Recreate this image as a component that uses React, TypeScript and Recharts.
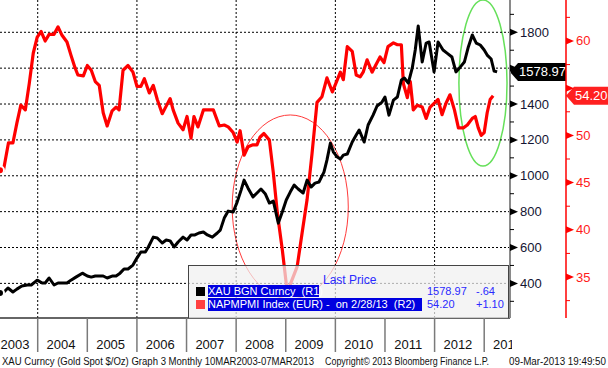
import React from 'react';
import { LineChart, Line, XAxis, YAxis, ReferenceLine, ReferenceArea } from 'recharts';

// Gold spot (R1), monthly
const goldDates = [
  2003.24, 2003.32, 2003.4, 2003.5, 2003.58, 2003.68, 2003.79, 2003.87, 2003.99,
  2004.09, 2004.15, 2004.23, 2004.33, 2004.41, 2004.59, 2004.67, 2004.77, 2004.9,
  2005.0, 2005.08, 2005.16, 2005.24, 2005.32, 2005.4, 2005.5, 2005.58, 2005.66, 2005.74, 2005.82, 2005.92,
  2006.0, 2006.08, 2006.17, 2006.23, 2006.33, 2006.41, 2006.51, 2006.59, 2006.67, 2006.75, 2006.83, 2006.93,
  2007.01, 2007.09, 2007.17, 2007.25, 2007.34, 2007.42, 2007.52, 2007.62, 2007.68, 2007.76, 2007.84, 2007.94,
  2008.02, 2008.1, 2008.16, 2008.24, 2008.34, 2008.42, 2008.5, 2008.59, 2008.67, 2008.75, 2008.85, 2008.93,
  2009.01, 2009.09, 2009.17, 2009.25, 2009.35, 2009.43, 2009.51, 2009.59, 2009.67, 2009.77, 2009.83, 2009.9, 2009.96,
  2010.04, 2010.1, 2010.16, 2010.24, 2010.34, 2010.42, 2010.48, 2010.58, 2010.66, 2010.76, 2010.84, 2010.94,
  2011.0, 2011.08, 2011.17, 2011.25, 2011.33, 2011.39, 2011.47, 2011.55, 2011.61, 2011.67, 2011.75, 2011.83, 2011.89, 2011.99,
  2012.07, 2012.17, 2012.25, 2012.35, 2012.43, 2012.52, 2012.6, 2012.68, 2012.76, 2012.84, 2012.92,
  2013.0, 2013.06, 2013.14, 2013.2, 2013.26,
];
const goldValues = [
  346, 352, 374, 352, 368, 385, 391, 391, 418,
  402, 402, 430, 391, 402, 402, 418, 435, 457,
  441, 435, 441, 441, 441, 430, 441, 441, 457, 480, 480, 502,
  541, 575, 575, 603, 658, 653, 625, 642, 637, 603, 631, 658,
  642, 670, 670, 681, 686, 670, 658, 681, 697, 764, 803, 798,
  853, 920, 976, 931, 882, 904, 926, 898, 848, 859, 736, 798,
  865, 909, 948, 926, 904, 976, 937, 959, 965, 1020, 1087, 1182, 1132,
  1104, 1093, 1115, 1121, 1188, 1227, 1255, 1188, 1283, 1338, 1389, 1411,
  1439, 1338, 1422, 1439, 1534, 1545, 1517, 1601, 1701, 1835, 1634, 1740, 1746, 1579,
  1746, 1701, 1684, 1662, 1579, 1607, 1634, 1718, 1785, 1740, 1729,
  1701, 1673, 1651, 1584, 1578.97,
];

// Euro area manufacturing PMI (R2)
const pmiDates = [
  2003.24, 2003.31, 2003.41, 2003.5, 2003.58, 2003.66, 2003.75, 2003.83, 2003.91, 2003.99,
  2004.07, 2004.15, 2004.23, 2004.33, 2004.41, 2004.49, 2004.59, 2004.67, 2004.75, 2004.81, 2004.92,
  2005.0, 2005.08, 2005.16, 2005.24, 2005.32, 2005.4, 2005.5, 2005.58, 2005.64, 2005.72, 2005.82, 2005.92,
  2006.0, 2006.08, 2006.15, 2006.25, 2006.33, 2006.41, 2006.51, 2006.59, 2006.67, 2006.73, 2006.83, 2006.93,
  2007.01, 2007.09, 2007.15, 2007.23, 2007.34, 2007.42, 2007.54, 2007.66, 2007.76, 2007.84, 2007.94,
  2008.02, 2008.08, 2008.16, 2008.24, 2008.34, 2008.42, 2008.48, 2008.56, 2008.67, 2008.75, 2008.83, 2008.93,
  2009.03, 2009.23, 2009.33, 2009.43, 2009.53, 2009.63, 2009.73, 2009.83, 2009.94,
  2010.04, 2010.1, 2010.16, 2010.24, 2010.34, 2010.42, 2010.5, 2010.56, 2010.64, 2010.74, 2010.82, 2010.9, 2010.98,
  2011.06, 2011.17, 2011.25, 2011.33, 2011.37, 2011.45, 2011.51, 2011.57, 2011.65, 2011.75, 2011.83, 2011.91, 2011.99,
  2012.07, 2012.15, 2012.23, 2012.31, 2012.4, 2012.48, 2012.58, 2012.66, 2012.76, 2012.82, 2012.88, 2012.94,
  2013.0, 2013.06, 2013.12, 2013.18,
];
const pmiValues = [
  46.3, 46.3, 49.2, 49.2, 51.3, 53.2, 52.7, 55.5, 58.7, 60.4,
  61.0, 60.0, 60.7, 60.7, 61.5, 60.6, 59.9, 58.5, 57.2, 56.4, 56.3,
  57.4, 56.9, 55.7, 55.3, 52.4, 51.0, 52.6, 53.0, 52.7, 56.9, 57.4, 56.7,
  55.2, 55.2, 56.0, 54.5, 55.3, 53.8, 52.3, 53.1, 53.9, 52.7, 51.3, 50.6,
  52.0, 49.7, 52.0, 50.9, 52.7, 52.7, 52.7, 51.0, 51.1, 50.9, 50.3,
  49.3, 50.5, 47.9, 48.8, 49.0, 49.0, 49.8, 50.2, 49.5, 46.0, 41.8, 37.9,
  33.4, 36.1, 39.7, 43.2, 48.1, 53.5, 54.1, 56.1, 54.6,
  55.9, 56.7, 55.9, 59.4, 58.9, 56.4, 56.2, 56.7, 58.0, 56.7, 57.5, 58.3, 57.7,
  59.4, 59.8, 59.6, 59.6, 55.5, 54.0, 55.7, 52.7, 53.2, 53.0, 51.8, 53.0, 53.4,
  53.8, 52.2, 53.4, 54.3, 52.7, 50.8, 50.8, 51.1, 51.8, 52.0, 50.8, 50.0,
  50.3, 52.4, 53.8, 54.2,
];

const goldTicks = [300, 400, 500, 600, 700, 800, 900, 1000, 1100, 1200, 1300, 1400, 1500, 1600, 1700, 1800, 1900];
const goldGrid = [400, 600, 800, 1000, 1200, 1400, 1600, 1800];
const pmiTicks = [32.5, 35, 37.5, 40, 42.5, 45, 47.5, 50, 52.5, 55, 57.5, 60, 62.5];
const yearTicks = [2003.5, 2004.5, 2005.5, 2006.5, 2007.5, 2008.5, 2009.5, 2010.5, 2011.5, 2012.5, 2013.5];
const yearGrid = [2004, 2006, 2008, 2010, 2012];

const goldLast = 1578.97;
const pmiLast = 54.2;

const goldData = goldDates.map((t, i) => ({ t, v: goldValues[i] }));
const pmiData = pmiDates.map((t, i) => ({ t, v: pmiValues[i] }));

const X_MIN = 2003.24;
const X_MAX = 2013.52;
const PLOT_W = 510;
const FONT = '"Liberation Sans", Arial, sans-serif';

const YearTick = (props: any) => {
  const { x, y, payload, index } = props;
  const half = PLOT_W / (X_MAX - X_MIN) / 2;
  const id = `yclip-${index}`;
  const lx = Math.max(x - 1.5, 15);
  return (
    <g>
      <defs>
        <clipPath id={id}>
          <rect x={0} y={y} width={PLOT_W + 2} height={50} />
        </clipPath>
      </defs>
      <line x1={x - half} x2={x - half} y1={y} y2={y + 34} stroke="#7a7a7a" strokeWidth={1.5} />
      <text x={lx} y={y + 26} textAnchor="middle" dominantBaseline="central" fontSize={13} fill="#111" fontFamily={FONT} clipPath={`url(#${id})`}>
        {Math.floor(payload.value)}
      </text>
    </g>
  );
};

// labels hidden behind the last-price tags are not drawn
const GoldTick = (props: any) => {
  const { x, y, payload } = props;
  const v = payload.value;
  if (v % 200 !== 0) {
    return <line x1={x} x2={x + 4} y1={y} y2={y} stroke="#000" strokeWidth={1} />;
  }
  const hidden = Math.abs(v - goldLast) < 60;
  return (
    <g>
      <polygon points={`${x},${y - 3.5} ${x + 8},${y} ${x},${y + 3.5}`} fill="#000" />
      {!hidden && <text x={x + 10} y={y} dominantBaseline="central" fontSize={13} fill="#141432" fontFamily={FONT}>{v}</text>}
    </g>
  );
};

const PmiTick = (props: any) => {
  const { x, y, payload } = props;
  const v = payload.value;
  if (v % 5 !== 0) {
    return <line x1={x} x2={x + 4} y1={y} y2={y} stroke="#ff0000" strokeWidth={1} />;
  }
  const hidden = Math.abs(v - pmiLast) < 1.5;
  return (
    <g>
      <polygon points={`${x},${y - 3.5} ${x + 8},${y} ${x},${y + 3.5}`} fill="#ff0000" />
      {!hidden && <text x={x + 10} y={y} dominantBaseline="central" fontSize={13} fill="#ff1a1a" fontFamily={FONT}>{v}</text>}
    </g>
  );
};

// price tag drawn on an axis, pointing left at the level
const tag = (text: string, fill: string, offset: number, w: number) => (props: any) => {
  const { viewBox } = props;
  const x0 = viewBox.x + viewBox.width + offset;
  const y = viewBox.y;
  return (
    <g>
      <polygon points={`${x0},${y} ${x0 + 8},${y - 9} ${x0 + w},${y - 9} ${x0 + w},${y + 9} ${x0 + 8},${y + 9}`} fill={fill} />
      <text x={x0 + 9} y={y} dominantBaseline="central" fontSize={13} fill="#fff" fontFamily={FONT}>{text}</text>
    </g>
  );
};

const ellipse = (stroke: string, width: number) => (p: any) => (
  <ellipse cx={p.x + p.width / 2} cy={p.y + p.height / 2} rx={p.width / 2} ry={p.height / 2} fill="none" stroke={stroke} strokeWidth={width} />
);

const abs = (left: number, top: number, extra: React.CSSProperties = {}): React.CSSProperties => ({
  position: 'absolute', left, top, whiteSpace: 'pre', ...extra,
});

export default function App() {
  return (
    <div style={{ position: 'relative', width: 608, height: 368, background: '#fff', fontFamily: FONT, overflow: 'hidden' }}>
      <style>{'body{margin:0}'}</style>
      <LineChart width={608} height={368} margin={{ top: 0, right: 0, bottom: 0, left: 0 }}>
        <XAxis
          dataKey="t"
          type="number"
          domain={[X_MIN, X_MAX]}
          allowDataOverflow
          ticks={yearTicks}
          interval={0}
          height={50}
          tickSize={0}
          tickMargin={0}
          tick={<YearTick />}
          axisLine={{ stroke: '#333', strokeWidth: 1.5 }}
          tickLine={false}
        />
        <YAxis
          yAxisId="gold"
          orientation="right"
          domain={[207, 1980]}
          allowDataOverflow
          ticks={goldTicks}
          interval={0}
          width={56}
          tickSize={0}
          tickMargin={0}
          tick={<GoldTick />}
          tickLine={false}
          axisLine={{ stroke: '#8a8a8a', strokeWidth: 2 }}
        />
        <YAxis
          yAxisId="pmi"
          orientation="right"
          domain={[30.66, 64.34]}
          allowDataOverflow
          ticks={pmiTicks}
          interval={0}
          width={42}
          tickSize={0}
          tickMargin={0}
          tick={<PmiTick />}
          tickLine={false}
          axisLine={{ stroke: '#ff0000', strokeWidth: 1.5 }}
        />
        {goldGrid.map((g) => (
          <ReferenceLine key={`h${g}`} yAxisId="gold" y={g} stroke="#000" strokeDasharray="2 2" strokeWidth={1} />
        ))}
        {yearGrid.map((g) => (
          <ReferenceLine key={`v${g}`} yAxisId="gold" x={g} stroke="#000" strokeDasharray="2 2" strokeWidth={1} />
        ))}
        <ReferenceArea yAxisId="gold" x1={2007.92} x2={2010.26} y1={313} y2={1339} ifOverflow="visible" shape={ellipse('#ff3b3b', 1)} />
        <ReferenceArea yAxisId="gold" x1={2012.49} x2={2013.46} y1={1054} y2={1980} ifOverflow="visible" shape={ellipse('#66e05a', 1.5)} />
        <Line yAxisId="pmi" data={pmiData} dataKey="v" type="linear" stroke="#ff0000" strokeWidth={3.2} dot={false} isAnimationActive={false} strokeLinejoin="round" />
        <Line yAxisId="gold" data={goldData} dataKey="v" type="linear" stroke="#000" strokeWidth={3} dot={false} isAnimationActive={false} strokeLinejoin="round" />
        <ReferenceLine yAxisId="gold" y={goldLast} stroke="none" label={tag(goldLast.toFixed(2), '#000', 0, 56)} />
        <ReferenceLine yAxisId="pmi" y={pmiLast} stroke="none" label={tag(pmiLast.toFixed(2), '#ff2020', 56, 42)} />
      </LineChart>

      {/* legend box */}
      <div style={abs(188, 265, { width: 319, height: 52, background: 'rgba(240,240,240,0.72)', borderTop: '1px solid #444', borderLeft: '1px solid #444', borderRight: '1px solid #444', fontSize: 11 })}>
        <span style={abs(134, 7, { color: '#2a2aff', fontSize: 12 })}>Last Price</span>
        <span style={abs(7, 21, { width: 9, height: 9, background: '#000' })} />
        <span style={abs(19, 19, { background: '#0000e0', color: '#fff', width: 111, height: 12, lineHeight: '12px' })}>XAU BGN Curncy  (R1)</span>
        <span style={abs(238, 19, { color: '#2a2aff', lineHeight: '12px' })}>1578.97</span>
        <span style={abs(287, 19, { color: '#2a2aff', lineHeight: '12px' })}>-.64</span>
        <span style={abs(7, 34, { width: 9, height: 9, background: '#ff4040' })} />
        <span style={abs(19, 32, { background: '#0000e0', color: '#fff', width: 214, height: 13, lineHeight: '13px' })}>NAPMPMI Index (EUR) -  on 2/28/13  (R2)</span>
        <span style={abs(238, 32, { color: '#2a2aff', lineHeight: '13px' })}>54.20</span>
        <span style={abs(287, 32, { color: '#2a2aff', lineHeight: '13px' })}>+1.10</span>
      </div>

      {/* footer */}
      <svg width={608} height={16} style={abs(0, 353)}>
        <text x={2} y={8} dominantBaseline="central" fontSize={10} fill="#111" fontFamily={FONT} textLength={312} lengthAdjust="spacingAndGlyphs">XAU Curncy (Gold Spot  $/Oz) Graph 3  Monthly 10MAR2003-07MAR2013</text>
        <text x={325} y={8} dominantBaseline="central" fontSize={10} fill="#111" fontFamily={FONT} textLength={164} lengthAdjust="spacingAndGlyphs">Copyright© 2013 Bloomberg Finance L.P.</text>
        <text x={509} y={8} dominantBaseline="central" fontSize={10} fill="#111" fontFamily={FONT} textLength={97} lengthAdjust="spacingAndGlyphs">09-Mar-2013 19:49:50</text>
      </svg>
    </div>
  );
}
